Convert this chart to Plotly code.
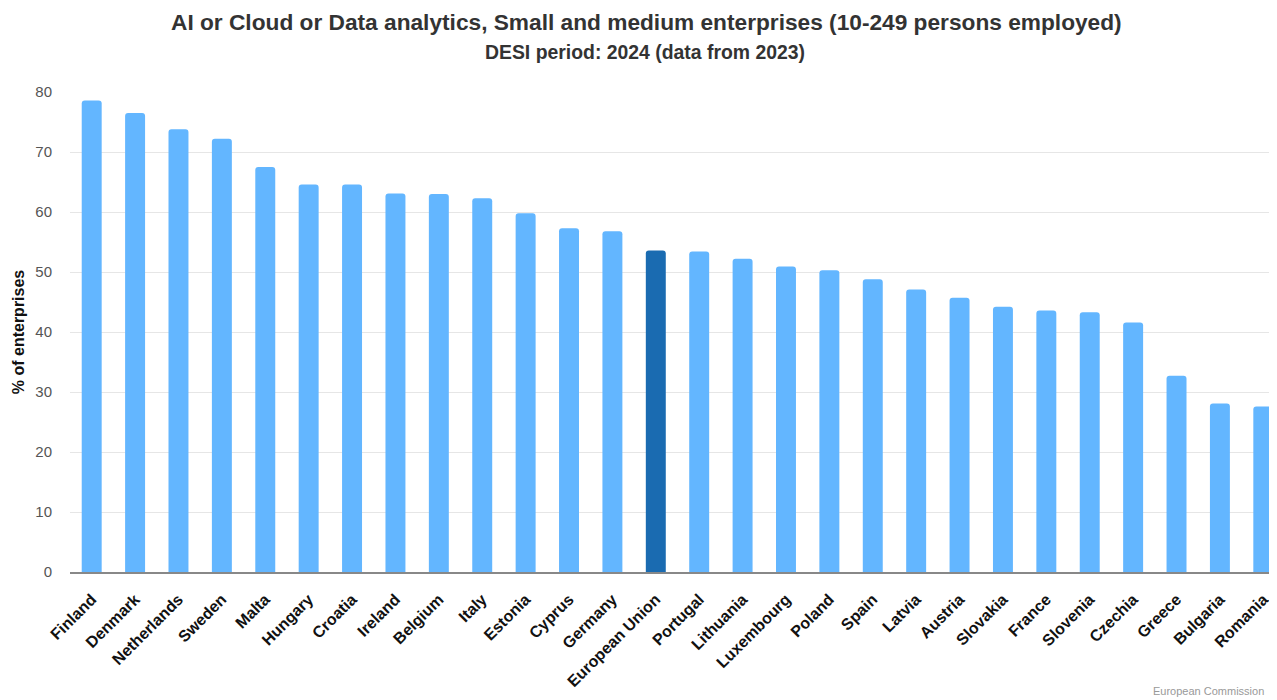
import plotly.graph_objects as go

countries = ["Finland", "Denmark", "Netherlands", "Sweden", "Malta", "Hungary", "Croatia",
             "Ireland", "Belgium", "Italy", "Estonia", "Cyprus", "Germany", "European Union",
             "Portugal", "Lithuania", "Luxembourg", "Poland", "Spain", "Latvia", "Austria",
             "Slovakia", "France", "Slovenia", "Czechia", "Greece", "Bulgaria", "Romania"]
values = [78.6, 76.5, 73.8, 72.2, 67.5, 64.6, 64.6, 63.1, 63.0, 62.3, 59.8, 57.3, 56.8, 53.6,
          53.4, 52.2, 50.9, 50.3, 48.8, 47.1, 45.7, 44.2, 43.6, 43.3, 41.6, 32.7, 28.1, 27.6]
y_ticks = [0, 10, 20, 30, 40, 50, 60, 70, 80]

LIGHT = "#63b6ff"
DARK = "#1a6bb1"
colors = [DARK if c == "European Union" else LIGHT for c in countries]
FONT = "Liberation Sans, Arial, sans-serif"

W, H, L, T, B = 1277, 692, 62, 84, 128
PW, PH = W - L, H - T - B

fig = go.Figure(go.Bar(x=countries, y=values, marker=dict(color=colors, line=dict(width=0)),
                       width=0.46))

fig.update_layout(
    width=W, height=H,
    margin=dict(l=L, r=0, t=T, b=B),
    paper_bgcolor="white", plot_bgcolor="white",
    barcornerradius=3,
    showlegend=False,
    font=dict(family=FONT),
)
fig.add_annotation(text="<b>AI or Cloud or Data analytics, Small and medium enterprises (10-249 persons employed)</b>",
                   xref="paper", yref="paper", x=(638 - L) / PW, y=1 + (T - 14) / PH,
                   xanchor="center", yanchor="middle", showarrow=False,
                   font=dict(size=22.7, color="#333333"))
fig.add_annotation(text="<b>DESI period: 2024 (data from 2023)</b>",
                   xref="paper", yref="paper", x=(637 - L) / PW, y=1 + (T - 44) / PH,
                   xanchor="center", yanchor="middle", showarrow=False,
                   font=dict(size=19.4, color="#333333"))
fig.update_xaxes(
    range=[-0.5, 27.5], tickangle=-45,
    tickfont=dict(size=16, color="#111111", family=FONT, weight="bold"),
    ticklabelstandoff=10,
    showline=True, linecolor="#888888", linewidth=1.5, ticks="", showgrid=False,
)
fig.update_yaxes(
    range=[0, 80], tickvals=y_ticks, ticktext=[str(v) for v in y_ticks],
    tickfont=dict(size=15, color="#555555"),
    showgrid=True, gridcolor="#e6e6e6", gridwidth=1, zeroline=False,
    ticklabelstandoff=17,
    title=dict(text="<b>% of enterprises</b>", font=dict(size=16, color="#111111"), standoff=6),
)
fig.add_annotation(text="European Commission", xref="paper", yref="paper",
                   x=(1258 - L) / PW, y=(H - B - 691) / PH, xanchor="right", yanchor="bottom",
                   showarrow=False, font=dict(size=11, color="#999999"))

fig.write_html("out.html")
